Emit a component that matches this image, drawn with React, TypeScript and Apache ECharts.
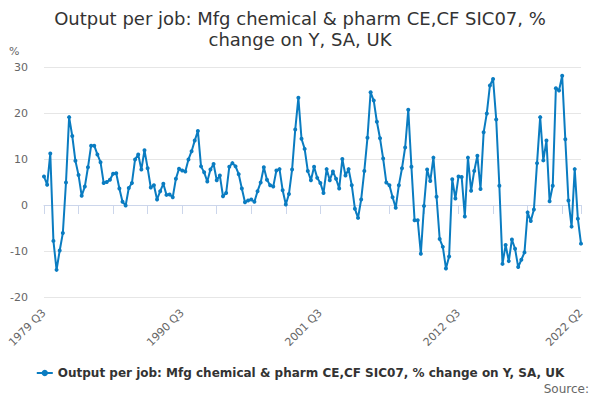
import React, { useEffect, useRef } from "react";
import * as echarts from "echarts";

const startYear = 1979;
const startQuarter = 3;
const pointCount = 172;

const quarters: string[] = [];
for (let i = 0; i < pointCount; i++) {
  const q0 = startQuarter - 1 + i;
  quarters.push(`${startYear + Math.floor(q0 / 4)} Q${(q0 % 4) + 1}`);
}

const values: number[] = [
  6.2, 4.4, 11.2, -7.8, -14.1, -9.9, -6.1, 4.9, 19.1, 15.0,
  9.6, 6.5, 2.0, 4.0, 8.2, 12.9, 12.9, 11.0, 9.3, 4.8,
  5.0, 5.5, 6.8, 6.9, 3.6, 0.7, -0.1, 3.7, 4.8, 9.9,
  11.0, 7.7, 11.9, 8.0, 3.8, 4.3, 1.2, 3.0, 4.6, 2.2,
  2.3, 1.7, 5.7, 7.9, 7.5, 7.3, 9.9, 11.7, 14.0, 16.1,
  8.4, 7.1, 5.1, 7.7, 8.9, 5.4, 6.4, 1.9, 2.6, 8.3,
  9.1, 8.4, 6.7, 3.6, 0.6, 1.0, 1.2, 0.7, 3.0, 4.9,
  8.2, 5.5, 4.3, 4.0, 7.5, 7.8, 3.2, 0.1, 2.4, 7.7,
  16.4, 23.3, 14.4, 12.2, 7.4, 5.4, 8.3, 5.9, 4.8, 2.6,
  7.8, 5.4, 7.3, 5.7, 3.6, 10.0, 6.4, 7.8, 4.3, -0.8,
  -2.8, 1.2, 7.4, 14.6, 24.5, 22.7, 18.1, 14.5, 10.1, 4.9,
  4.3, 1.7, -0.6, 4.3, 8.0, 12.5, 20.7, 8.3, -3.3, -3.3,
  -10.6, -0.2, 7.7, 5.2, 10.3, 1.8, -7.4, -9.1, -13.8, -11.2,
  5.6, 1.4, 6.2, 6.1, -2.5, 10.3, 3.1, 7.4, 10.7, 3.5,
  15.8, 19.9, 26.0, 27.4, 18.6, 4.2, -12.8, -8.7, -12.2, -7.5,
  -9.5, -13.5, -11.9, -10.3, -1.6, -3.5, -1.0, 9.1, 19.1, 9.7,
  14.0, 0.8, 4.2, 25.4, 24.9, 28.1, 14.3, 1.0, -4.7, 7.8,
  -3.0, -8.4,
];

const seriesName = "Output per job: Mfg chemical & pharm CE,CF SIC07, % change on Y, SA, UK";
const titleText = "Output per job: Mfg chemical & pharm CE,CF SIC07, %\nchange on Y, SA, UK";
const yTicks = { min: -20, max: 30, interval: 10 };

const FONT = "DejaVu Sans";

export default function App() {
  const ref = useRef<HTMLDivElement>(null);
  useEffect(() => {
    if (!ref.current) return;
    const chart = echarts.init(ref.current, undefined, { renderer: "svg" });
    const last = quarters.length - 1;
    chart.setOption({
      animation: false,
      backgroundColor: "#ffffff",
      title: {
        text: titleText,
        left: "center",
        top: 3,
        textStyle: {
          fontFamily: FONT,
          fontSize: 18,
          fontWeight: "normal",
          color: "#333333",
          lineHeight: 21,
        },
      },
      legend: {
        bottom: 16,
        left: "center",
        itemWidth: 16,
        itemHeight: 8,
        itemGap: 6,
        textStyle: {
          fontFamily: FONT,
          fontSize: 12,
          fontWeight: "bold",
          color: "#333333",
        },
        data: [seriesName],
      },
      graphic: [
        {
          type: "text",
          left: 9,
          top: 46,
          style: { text: "%", fontFamily: FONT, fontSize: 11, fill: "#666666" },
        },
        {
          type: "text",
          right: 11,
          top: 383,
          style: { text: "Source:", fontFamily: FONT, fontSize: 12, fill: "#666666" },
        },
      ],
      grid: { left: 44, right: 19, top: 67, bottom: 103, containLabel: false },
      xAxis: {
        type: "category",
        data: quarters,
        boundaryGap: false,
        axisLine: { lineStyle: { color: "#ccd6eb" } },
        axisTick: {
          length: 9,
          lineStyle: { color: "#ccd6eb" },
          interval: (i: number) => i % 11 === 0 || i === last,
        },
        axisLabel: {
          rotate: 45,
          margin: 14,
          fontFamily: FONT,
          fontSize: 11,
          color: "#666666",
          interval: (i: number) => i % 44 === 0 || i === last,
        },
        splitLine: { show: false },
      },
      yAxis: {
        type: "value",
        min: yTicks.min,
        max: yTicks.max,
        interval: yTicks.interval,
        axisLine: { show: false },
        axisTick: { show: false },
        axisLabel: { fontFamily: FONT, fontSize: 11, color: "#666666", margin: 16 },
        splitLine: { lineStyle: { color: "#e6e6e6" } },
      },
      series: [
        {
          name: seriesName,
          type: "line",
          data: values,
          symbol: "circle",
          symbolSize: 4,
          showSymbol: true,
          showAllSymbol: true,
          lineStyle: { width: 2, color: "#0a7cc1" },
          itemStyle: { color: "#0a7cc1" },
        },
      ],
    });
    return () => chart.dispose();
  }, []);
  return (
    <div
      ref={ref}
      style={{ position: "absolute", left: 0, top: 0, width: 600, height: 400 }}
    />
  );
}
